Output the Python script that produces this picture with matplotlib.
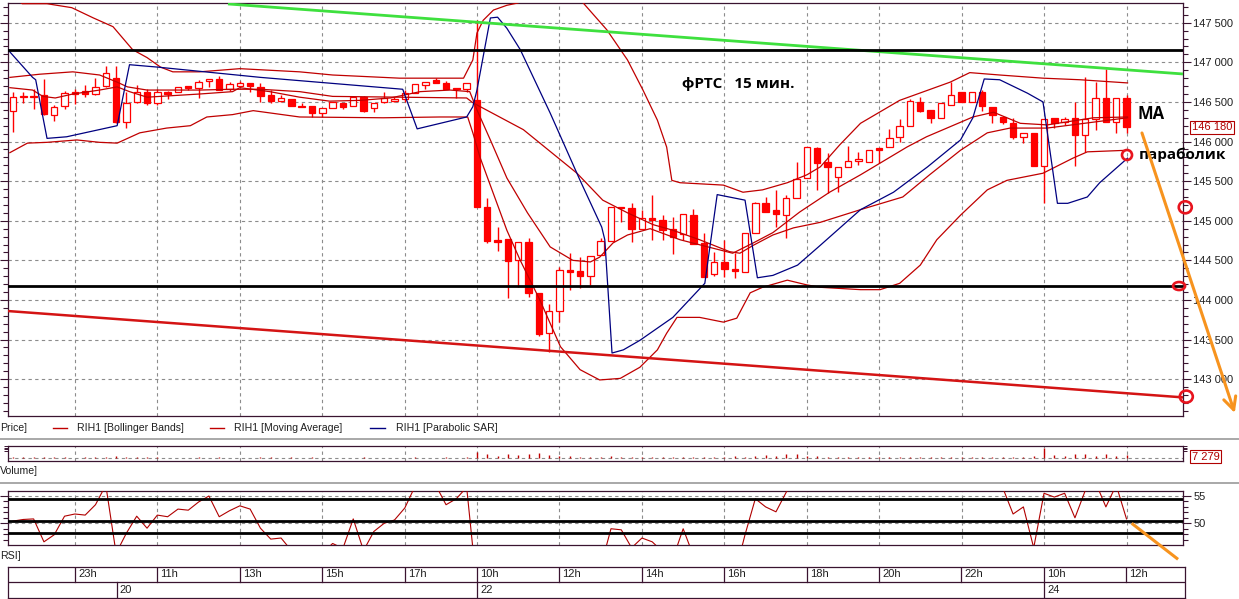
import matplotlib
matplotlib.use("Agg")
import matplotlib.pyplot as plt
import numpy as np
from matplotlib.patches import Ellipse
from matplotlib.ticker import MultipleLocator, FixedLocator, FuncFormatter, NullFormatter
from matplotlib.transforms import blended_transform_factory

plt.rcParams['font.family'] = ['Liberation Sans', 'DejaVu Sans']

# ---------------- data (RIH1, 15-min candles) ----------------
opens = [146390, 146560, 146570, 146590, 146340, 146450, 146630, 146640, 146600, 146700,
         146800, 146250, 146500, 146630, 146490, 146630, 146630, 146700, 146680, 146760,
         146790, 146660, 146700, 146740, 146690, 146590, 146510, 146540, 146450, 146450,
         146360, 146420, 146490, 146450, 146560, 146420, 146500, 146510, 146540, 146610,
         146710, 146780, 146740, 146680, 146660, 146520, 145170, 144760, 144770, 144500,
         144730, 144090, 143580, 143860, 144380, 144370, 144300, 144570, 144740, 145170,
         145160, 144900, 145030, 145010, 144900, 144830, 145070, 144720, 144330, 144480,
         144390, 144350, 144850, 145220, 145140, 145070, 145290, 145540, 145920, 145740,
         145550, 145680, 145760, 145740, 145920, 145930, 146060, 146200, 146500, 146400,
         146300, 146460, 146630, 146500, 146630, 146440, 146310, 146230, 146060, 146110,
         145690, 146300, 146250, 146300, 146080, 146280, 146550, 146250, 146550]
highs = [146630, 146630, 146660, 146790, 146460, 146640, 146660, 146710, 146800, 146950,
         146950, 146630, 146710, 146660, 146660, 146640, 146690, 146700, 146780, 146790,
         146830, 146750, 146760, 146740, 146740, 146650, 146590, 146540, 146490, 146450,
         146420, 146500, 146490, 146570, 146570, 146490, 146630, 146560, 146650, 146730,
         146750, 146800, 146760, 146680, 146740, 147530, 145290, 144920, 144770, 144730,
         144780, 144090, 143950, 144420, 144590, 144540, 144560, 144780, 145170, 145170,
         145220, 145140, 145330, 145070, 145050, 145090, 145150, 144850, 144610, 144760,
         144590, 144850, 145240, 145300, 145390, 145330, 145740, 145930, 145930, 145860,
         145680, 145940, 145870, 145890, 145920, 146160, 146280, 146540, 146560, 146400,
         146490, 146750, 146630, 146630, 146650, 146440, 146310, 146300, 146110, 146110,
         146280, 146300, 146310, 146500, 146810, 146750, 146920, 146550, 146590]
lows = [146120, 146490, 146410, 146340, 146260, 146410, 146470, 146560, 146590, 146690,
        146230, 146170, 146490, 146460, 146460, 146540, 146630, 146650, 146550, 146690,
        146650, 146640, 146700, 146630, 146500, 146490, 146500, 146450, 146440, 146310,
        146310, 146420, 146410, 146450, 146370, 146370, 146490, 146500, 146500, 146610,
        146660, 146740, 146660, 146550, 146630, 145170, 144720, 144620, 144020, 144160,
        144040, 143550, 143340, 143720, 144130, 144150, 144190, 144570, 144740, 144980,
        144730, 144900, 144760, 144760, 144580, 144760, 144710, 144290, 144300, 144290,
        144280, 144350, 144850, 145110, 144920, 144780, 145290, 145540, 145390, 145350,
        145360, 145680, 145700, 145740, 145730, 145930, 145990, 146200, 146370, 146230,
        146300, 146460, 146500, 146500, 146390, 146230, 146220, 146030, 145980, 145690,
        145220, 146170, 146210, 145690, 145870, 146150, 146250, 146110, 146110]
closes = [146560, 146570, 146560, 146350, 146440, 146610, 146600, 146600, 146690, 146870,
          146250, 146490, 146630, 146490, 146630, 146600, 146690, 146680, 146750, 146790,
          146650, 146730, 146740, 146700, 146570, 146510, 146550, 146450, 146440, 146360,
          146420, 146500, 146440, 146560, 146390, 146490, 146550, 146540, 146610, 146730,
          146750, 146740, 146660, 146660, 146740, 145170, 144740, 144730, 144490, 144730,
          144090, 143570, 143860, 144380, 144350, 144300, 144560, 144740, 145170, 145160,
          144900, 145030, 145010, 144880, 144790, 145090, 144710, 144290, 144480, 144390,
          144370, 144850, 145220, 145110, 145090, 145290, 145530, 145930, 145730, 145680,
          145680, 145750, 145770, 145890, 145890, 146040, 146200, 146510, 146390, 146300,
          146490, 146590, 146500, 146630, 146450, 146340, 146250, 146060, 146110, 145690,
          146280, 146230, 146280, 146080, 146280, 146550, 146250, 146550, 146180]
volumes = [2500, 1800, 1500, 3000, 2000, 1500, 1200, 1500, 2000, 2500,
           4000, 3000, 1500, 2000, 1500, 1000, 800, 1000, 1500, 1000,
           1500, 1200, 1000, 1200, 1800, 1500, 1000, 1500, 800, 1500,
           1200, 1000, 1200, 1000, 1800, 1200, 1000, 1200, 1000, 1500,
           1200, 1000, 1500, 1000, 1800,
           16000, 9000, 6000, 10000, 7000, 11000, 12000, 8000, 6000,
           4000, 3500, 3000, 2500, 4500, 3000, 3500, 2500, 3000, 2000,
           3000, 2500, 3000, 2000, 3500, 3000, 4000, 3000, 6000, 7000,
           5000, 9000, 10000, 6000, 4000, 3000, 3500, 2500, 3000, 2000,
           2500, 2000, 3000, 2500, 2000, 3000, 2000, 2500, 2000, 3000,
           2500, 3000, 2000, 3500, 2500, 4000,
           26000, 8000, 5000, 9000, 10000, 6000, 9000, 5000, 7279]
rsi = [50.4, 50.7, 50.8, 46.6, 47.9, 51.3, 51.7, 51.5, 53.4, 57.0,
       44.5, 48.2, 51.3, 49.1, 51.5, 51.2, 52.6, 52.4, 53.9, 55.0,
       51.2, 52.3, 53.2, 52.6, 49.1, 47.1, 47.3, 45.0, 44.5, 43.5,
       44.5, 46.3, 45.4, 50.8, 45.0, 48.5, 50.0, 50.6, 52.8, 56.8,
       57.5, 57.0, 53.4, 54.5, 56.6, 38.0, 33.0, 32.5, 29.0, 31.5,
       27.0, 23.0, 28.0, 36.0, 35.5, 35.0, 39.0, 42.0, 49.0, 48.8,
       45.5, 47.3, 46.6, 44.8, 43.5, 49.0, 44.0, 39.0, 41.5, 40.5,
       40.5, 47.9, 54.5, 53.0, 52.1, 55.7, 58.5, 63.0, 60.0, 59.0,
       59.5, 60.5, 61.0, 62.0, 61.5, 63.0, 64.5, 68.0, 65.0, 62.0,
       64.5, 66.0, 63.5, 65.0, 61.5, 59.0, 56.5, 51.7, 53.0, 45.5,
       55.5, 54.8, 55.5, 51.0, 56.0, 57.5, 53.0, 57.0, 50.8]

# indicator polylines (bar index, price)
bb_up_x = [-0.3, 0.9, 3.3, 5.7, 7.8, 9.7, 11.6, 13.0, 14.3, 15.5, 18.1, 22.0, 27.8, 31.0, 37.5,
           43.7, 44.6, 45.0, 45.6, 46.6, 47.9, 49.0, 51.6, 53.5, 55.3, 57.6, 59.6, 61.1, 62.5,
           63.4, 63.9, 64.7, 68.9, 70.8, 72.7, 75.1, 77.0, 78.3, 80.2, 82.2, 86.0, 90.9, 92.8,
           95.7, 99.9, 103.5, 108.1]
bb_up_y = [147850, 147740, 147740, 147690, 147560, 147450, 147160, 147060, 146940, 146880,
           146880, 146920, 146880, 146840, 146800, 146800, 147030, 147370, 147530, 147660,
           147720, 147750, 148040, 147980, 147750, 147410, 147030, 146650, 146270, 145930,
           145510, 145480, 145450, 145360, 145390, 145480, 145580, 145680, 145960, 146230,
           146520, 146750, 146870, 146840, 146800, 146780, 146740]
bb_mid_x = [-0.3, 2.6, 5.8, 8.4, 10.1, 11.1, 13.0, 18.1, 21.3, 24.0, 27.8, 31.0, 37.5, 44.0,
            44.6, 49.5, 54.7, 57.2, 59.6, 62.1, 64.0, 66.6, 69.5, 70.5, 71.8, 73.7, 75.7, 78.3,
            82.2, 86.3, 88.9, 91.9, 94.5, 96.7, 100.3, 108.1]
bb_mid_y = [146810, 146850, 146880, 146840, 146750, 146690, 146650, 146650, 146660, 146660,
            146630, 146570, 146560, 146550, 146490, 146150, 145600, 145260, 145100, 144950,
            144880, 144760, 144610, 144590, 144690, 144820, 144910, 144980, 145140, 145300,
            145580, 145890, 146110, 146170, 146170, 146300]
bb_lo_x = [-0.3, 1.4, 3.3, 6.2, 8.4, 10.1, 12.3, 14.9, 17.2, 18.8, 21.3, 23.3, 27.8, 35.9, 41.4,
           44.1, 44.6, 45.3, 47.9, 49.2, 51.1, 53.1, 55.0, 56.9, 58.9, 60.8, 62.5, 63.4, 64.4,
           66.6, 68.9, 70.2, 71.5, 72.7, 75.1, 77.0, 78.3, 82.2, 84.1, 86.0, 88.0, 89.6, 91.9,
           94.5, 96.4, 99.9, 102.8, 104.2, 108.1]
bb_lo_y = [145860, 145980, 145990, 146020, 145990, 145980, 146110, 146170, 146200, 146310,
           146340, 146390, 146310, 146300, 146310, 146310, 146110, 145800, 144880, 144500,
           144000, 143410, 143120, 142990, 143010, 143150, 143370, 143580, 143780, 143780,
           143720, 143770, 144090, 144160, 144250, 144190, 144160, 144130, 144130, 144210,
           144440, 144760, 145070, 145390, 145510, 145600, 145790, 145870, 145890]
ma_x = [-0.3, 1.9, 2.9, 4.1, 5.8, 8.4, 10.1, 11.3, 13.0, 18.1, 21.3, 22.0, 24.9, 27.8, 30.7,
        33.7, 36.6, 39.5, 42.4, 44.3, 45.0, 46.3, 47.9, 49.9, 52.1, 54.3, 56.0, 56.9, 58.2,
        59.6, 61.8, 64.7, 68.3, 69.8, 71.8, 73.7, 76.3, 79.2, 82.2, 86.7, 88.6, 93.1, 95.1,
        97.7, 100.3, 104.8, 108.1]
ma_y = [146680, 146650, 146570, 146550, 146600, 146650, 146690, 146630, 146560, 146600,
        146630, 146680, 146630, 146560, 146510, 146520, 146550, 146630, 146650, 146630,
        146400, 146020, 145540, 145100, 144670, 144500, 144480, 144540, 144720, 144820,
        144900, 144760, 144640, 144590, 144720, 144850, 145110, 145360, 145580, 145930,
        146060, 146310, 146370, 146230, 146210, 146300, 146310]
sar_x = [-0.5, 1.9, 2.2, 3.3, 5.2, 10.1, 11.3, 14.0, 24.0, 37.8, 39.2, 44.0, 44.6, 45.0, 46.3,
         47.0, 47.9, 49.2, 52.1, 55.0, 57.1, 57.4, 58.1, 59.2, 60.8, 64.0, 67.1, 68.3, 71.0,
         72.2, 73.7, 76.1, 78.3, 82.2, 85.4, 88.7, 91.9, 93.1, 94.2, 95.7, 98.4, 99.9, 101.3,
         102.3, 104.2, 105.4, 108.1]
sar_y = [147160, 146810, 146780, 146040, 146060, 146200, 146970, 146940, 146810, 146660,
         146160, 146310, 146440, 146650, 147560, 147570, 147430, 147160, 146360, 145510,
         144920, 144760, 143330, 143370, 143490, 143780, 144210, 145330, 145260, 144280,
         144310, 144440, 144690, 145140, 145360, 145680, 146020, 146300, 146790, 146780,
         146610, 146500, 145220, 145220, 145300, 145480, 145790]

# hand-drawn levels
green_x, green_y = [20.85, 113.48], [147737, 146853]
red_trend_x, red_trend_y = [-0.485, 113.48], [143860, 142770]
black_levels = [147150, 144180]
rsi_levels = [54.45, 50.48, 48.28]
last_price = 146180
last_volume = 7279

# time axis
hour_ticks = [6, 14, 22, 30, 38, 45, 53, 61, 69, 77, 84, 92, 100, 108]
hour_labels = ['23h', '11h', '13h', '15h', '17h', '10h', '12h', '14h', '16h', '18h',
               '20h', '22h', '10h', '12h']
day_ticks = [10.05, 45, 100]
day_labels = ['20', '22', '24']

# ---------------- layout ----------------
W, H = 1239, 599
fig = plt.figure(figsize=(W / 100, H / 100), dpi=100, facecolor='white')


def box(x0, y0, x1, y1):
    return [x0 / W, 1 - y1 / H, (x1 - x0) / W, (y1 - y0) / H]


XMIN, XMAX = -0.485, 113.48
FRAME = '#3a1430'
RED = '#ff0000'
LRED = '#c00000'
NAVY = '#000080'
GRID = '#8c8c8c'
ORANGE = '#f7931e'
CIRC = '#e8141e'
DASH = (0, (3, 3))
fmt_price = FuncFormatter(lambda v, p: f"{int(round(v)):,}".replace(",", " "))


def style_frame(a):
    for s in a.spines.values():
        s.set_color(FRAME)
        s.set_linewidth(0.9)


# ---- main price panel ----
ax = fig.add_axes(box(8, 3, 1183, 416))
ax.set_xlim(XMIN, XMAX)
ax.set_ylim(142535, 147749)
style_frame(ax)
for p in range(143000, 147501, 500):
    ax.axhline(p, color=GRID, lw=0.8, ls=DASH, zorder=0)
for t in hour_ticks:
    ax.axvline(t, color=GRID, lw=0.8, ls=DASH, zorder=0)

idx = np.arange(len(opens))
o = np.array(opens, float); c = np.array(closes, float)
h = np.array(highs, float); l = np.array(lows, float)
ax.vlines(idx, l, h, color=RED, lw=1.0, zorder=2)
bottoms = np.minimum(o, c)
heights = np.maximum(np.abs(c - o), 14)
faces = [RED if cc < oo else 'white' for oo, cc in zip(o, c)]
ax.bar(idx, heights, bottom=bottoms, width=0.62, color=faces, edgecolor=RED,
       linewidth=0.9, zorder=3)

for xs, ys in [(bb_up_x, bb_up_y), (bb_mid_x, bb_mid_y), (bb_lo_x, bb_lo_y), (ma_x, ma_y)]:
    ax.plot(xs, ys, color=LRED, lw=0.9, zorder=4)
ax.plot(sar_x, sar_y, color=NAVY, lw=0.9, zorder=4)

ax.plot(green_x, green_y, color='#3ee03e', lw=2.0, zorder=5, solid_capstyle='butt')
for lv in black_levels:
    ax.axhline(lv, color='black', lw=2.0, zorder=5)
ax.plot(red_trend_x, red_trend_y, color='#d41414', lw=1.8, zorder=5)

ax.set_xticks([])
ax.yaxis.set_major_locator(MultipleLocator(500))
ax.yaxis.set_minor_locator(MultipleLocator(100))
ax.yaxis.set_major_formatter(fmt_price)
ax.tick_params(axis='y', which='both', left=True, right=True, labelleft=False,
               labelright=True, direction='out', colors=FRAME, labelcolor='#202020',
               labelsize=8, width=0.8)
ax.tick_params(axis='y', which='major', length=6, pad=1.5)
ax.tick_params(axis='y', which='minor', length=3.5)

bt = blended_transform_factory(ax.transAxes, ax.transData)
ax.text(1.0075, last_price, f"{last_price:,}".replace(",", " "), transform=bt,
        color='#b00000', fontsize=8, va='center', ha='left', zorder=10,
        bbox=dict(facecolor='white', edgecolor='#b00000', pad=1.2, lw=0.8))

ax.text(64.9, 146726, "фРТС   15 мин.", fontsize=11, fontweight='bold',
        family=['Open Sans', 'DejaVu Sans'], va='center', ha='left', zorder=8)
ax.text(109.1, 146348, "МА", fontsize=12, fontweight='bold',
        family=['Open Sans', 'DejaVu Sans'], va='center', ha='left', zorder=8,
        clip_on=False)
ax.text(109.2, 145830, "параболик", fontsize=11, fontweight='bold',
        family=['Open Sans', 'DejaVu Sans'], va='center', ha='left', zorder=8,
        clip_on=False)

PX_X, PX_Y = 1 / 10.31, 12.626
for (cx, cy, wpx, hpx) in [(108.05, 145830, 10, 10), (113.7, 145170, 13, 12),
                           (113.1, 144176, 12, 8), (113.8, 142780, 13, 12)]:
    e = Ellipse((cx, cy), wpx * PX_X, hpx * PX_Y, fill=False, ec=CIRC, lw=1.9,
                zorder=9, clip_on=False)
    ax.add_patch(e)

ax.annotate('', xy=(118.5, 142573), xytext=(109.5, 146108),
            arrowprops=dict(arrowstyle='->,head_length=0.9,head_width=0.45', color=ORANGE,
                            lw=2.2, shrinkA=0, shrinkB=0),
            annotation_clip=False, zorder=9)

# ---- volume panel ----
axv = fig.add_axes(box(8, 446, 1183, 461))
axv.set_xlim(XMIN, XMAX)
axv.set_ylim(-7500, 30000)
style_frame(axv)
axv.axhline(0, color=GRID, lw=0.8, ls=DASH, zorder=0)
for t in hour_ticks:
    axv.axvline(t, color=GRID, lw=0.8, ls=DASH, zorder=0)
axv.vlines(idx, 0, volumes, color=LRED, lw=1.0, zorder=2)
axv.set_xticks([])
axv.yaxis.set_major_locator(FixedLocator([29000, 25500, 22000, 18500]))
axv.yaxis.set_major_formatter(NullFormatter())
axv.tick_params(axis='y', left=True, right=True, direction='out', length=3,
                width=0.7, colors=FRAME)
axv.text(1.0075, 0.3, f"{last_volume:,}".replace(",", " "), transform=axv.transAxes,
         color='#b00000', fontsize=8, va='center', ha='left',
         bbox=dict(facecolor='white', edgecolor='#b00000', pad=1.2, lw=0.8))

# ---- RSI panel ----
axr = fig.add_axes(box(8, 490.7, 1183, 545))
axr.set_xlim(XMIN, XMAX)
axr.set_ylim(46.02, 55.97)
style_frame(axr)
for v in (55, 50):
    axr.axhline(v, color=GRID, lw=0.8, ls=DASH, zorder=0)
for t in hour_ticks:
    axr.axvline(t, color=GRID, lw=0.8, ls=DASH, zorder=0)
axr.plot(idx, rsi, color='#b00000', lw=0.8, zorder=3)
for lv in rsi_levels:
    axr.axhline(lv, color='black', lw=2.0, zorder=4)
axr.plot([108.5, 113.0], [50.0, 43.4], color=ORANGE, lw=2.2, zorder=9, clip_on=False,
         solid_capstyle='butt')
axr.set_xticks([])
axr.yaxis.set_major_locator(FixedLocator([50, 55]))
axr.yaxis.set_minor_locator(MultipleLocator(1))
axr.tick_params(axis='y', which='both', left=True, right=True, labelleft=False,
                labelright=True, direction='out', colors=FRAME, labelcolor='#202020',
                labelsize=8, width=0.8)
axr.tick_params(axis='y', which='major', length=6, pad=1.5)
axr.tick_params(axis='y', which='minor', length=3.5)

# ---- time axis ----
axt = fig.add_axes(box(8, 566.7, 1185, 597.7))
axt.set_xlim(XMIN, 113.68)
axt.set_ylim(0, 2)
style_frame(axt)
axt.set_xticks([]); axt.set_yticks([])
axt.axhline(1, color=FRAME, lw=0.9)
for t, lab in zip(hour_ticks, hour_labels):
    axt.plot([t, t], [1, 2], color=FRAME, lw=0.9)
    axt.text(t + 0.3, 1.5, lab, fontsize=8, va='center', ha='left', color='#202020')
for t, lab in zip(day_ticks, day_labels):
    axt.plot([t, t], [0, 1], color=FRAME, lw=0.9)
    axt.text(t + 0.3, 0.5, lab, fontsize=8, va='center', ha='left', color='#202020')

# ---- overlay: legend row, panel captions, separators ----
ov = fig.add_axes([0, 0, 1, 1])
ov.set_xlim(0, W)
ov.set_ylim(H, 0)
ov.axis('off')
ov.patch.set_alpha(0)
ov.hlines([439, 483], 0, W, color='#a8a8a8', lw=1.4)
TXT = dict(fontsize=7.6, va='center', ha='left', color='#202020')
ov.text(0, 428, "Price]", **TXT)
ov.plot([53, 67], [428, 428], color=LRED, lw=1)
ov.text(77, 428, "RIH1 [Bollinger Bands]", **TXT)
ov.plot([210, 224], [428, 428], color=LRED, lw=1)
ov.text(234, 428, "RIH1 [Moving Average]", **TXT)
ov.plot([370, 385], [428, 428], color=NAVY, lw=1)
ov.text(396, 428, "RIH1 [Parabolic SAR]", **TXT)
ov.text(0, 471, "Volume]", **TXT)
ov.text(0, 556, "RSI]", **TXT)

fig.savefig("out.png", dpi=100, facecolor='white')
